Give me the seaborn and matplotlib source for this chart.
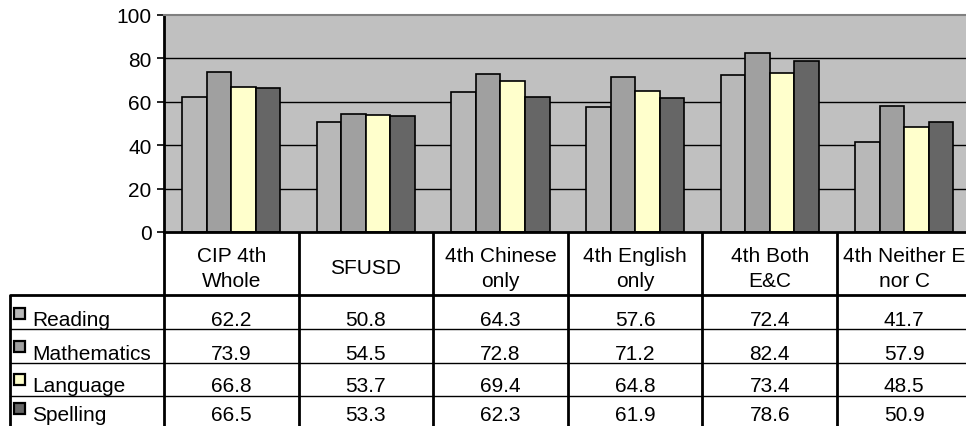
import matplotlib
matplotlib.use("Agg")
import matplotlib.pyplot as plt
from matplotlib.patches import Rectangle
import seaborn as sns
import pandas as pd

# ---- data ----
groups = ["CIP 4th\nWhole", "SFUSD", "4th Chinese\nonly", "4th English\nonly", "4th Both\nE&C", "4th Neither E\nnor C"]
subjects = ["Reading", "Mathematics", "Language", "Spelling"]
reading = [62.2, 50.8, 64.3, 57.6, 72.4, 41.7]
mathematics = [73.9, 54.5, 72.8, 71.2, 82.4, 57.9]
language = [66.8, 53.7, 69.4, 64.8, 73.4, 48.5]
spelling = [66.5, 53.3, 62.3, 61.9, 78.6, 50.9]
yticks = [0, 20, 40, 60, 80, 100]
colors = ["#B8B8B8", "#A0A0A0", "#FFFFCC", "#666666"]

series = [reading, mathematics, language, spelling]
rows = []
for s, vals in zip(subjects, series):
    for g, v in zip(groups, vals):
        rows.append({"group": g, "subject": s, "value": v})
df = pd.DataFrame(rows)

sns.set_theme(style="white")
plt.rcParams["font.family"] = ["Liberation Sans", "DejaVu Sans"]
FS = 15

W, H = 966, 427
fig = plt.figure(figsize=(W / 100, H / 100), dpi=100)
fig.patch.set_facecolor("white")

# layout in pixels
x0 = 164.0
colw = 134.6
y_top, y_zero = 16.0, 233.0

ax = fig.add_axes([x0 / W, (H - y_zero) / H, 6 * colw / W, (y_zero - y_top) / H])
ax.set_facecolor("#C0C0C0")
for y in yticks[1:-1]:
    ax.axhline(y, color="black", lw=1, zorder=0)

sns.barplot(data=df, x="group", y="value", hue="subject", palette=colors,
            hue_order=subjects, order=groups, width=0.73, saturation=1,
            edgecolor="black", linewidth=1.2, legend=False, ax=ax, zorder=2)

ax.set_xlim(-0.5, len(groups) - 0.5)
ax.set_ylim(0, 100)
ax.set_yticks(yticks)
ax.set_yticklabels([str(t) for t in yticks], fontsize=FS, color="black")
ax.set_xticks([])
ax.set_xlabel("")
ax.set_ylabel("")
ax.tick_params(axis="y", direction="out", length=5, width=1.2, color="black", pad=4, left=True)
ax.spines["left"].set_color("black")
ax.spines["left"].set_linewidth(2)
ax.spines["bottom"].set_color("black")
ax.spines["bottom"].set_linewidth(2)
ax.spines["top"].set_color("#808080")
ax.spines["top"].set_linewidth(1.5)
ax.spines["right"].set_visible(False)

# ---- data table ----
axt = fig.add_axes([0, 0, 1, 1], zorder=-1)
axt.set_xlim(0, W)
axt.set_ylim(H, 0)
axt.axis("off")

x_left = 10
header_line = 296
row_lines = [330, 364, 397]
table_bottom = H + 5

# vertical lines
for i in range(len(groups) + 1):
    xv = x0 + i * colw
    axt.plot([xv, xv], [y_zero, table_bottom], color="black", lw=2, solid_capstyle="butt")
axt.plot([x_left, x_left], [header_line, table_bottom], color="black", lw=2, solid_capstyle="butt")
# horizontal lines
axt.plot([x_left, W + 5], [header_line, header_line], color="black", lw=2)
for yl in row_lines:
    axt.plot([x_left, W + 5], [yl, yl], color="black", lw=1)

# header
for i, g in enumerate(groups):
    xc = x0 + (i + 0.5) * colw
    lines = g.split("\n")
    if len(lines) == 2:
        axt.text(xc, 262.5, lines[0], ha="center", va="baseline", fontsize=FS, color="black")
        axt.text(xc, 287.5, lines[1], ha="center", va="baseline", fontsize=FS, color="black")
    else:
        axt.text(xc, 274.5, lines[0], ha="center", va="baseline", fontsize=FS, color="black")

# rows
row_base = [326.5, 360.0, 392.5, 421.5]
for r, (s, vals, c) in enumerate(zip(subjects, series, colors)):
    yb = row_base[r]
    axt.add_patch(Rectangle((14, yb - 18), 11, 11, facecolor=c, edgecolor="black", lw=1.6))
    axt.text(32, yb, s, ha="left", va="baseline", fontsize=FS, color="black")
    for i, v in enumerate(vals):
        xc = x0 + (i + 0.5) * colw
        axt.text(xc, yb, f"{v:.1f}", ha="center", va="baseline", fontsize=FS, color="black")

fig.savefig("out.png", dpi=100, facecolor="white")
